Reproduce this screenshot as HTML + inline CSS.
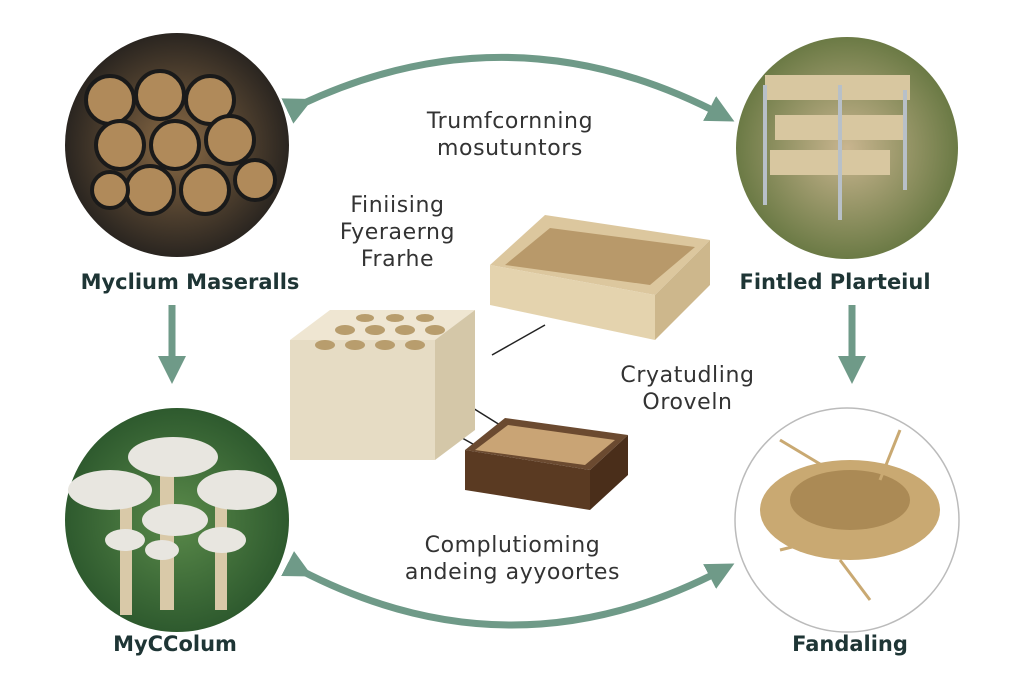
<!DOCTYPE html>
<html><head><meta charset="utf-8"><style>
body{margin:0;width:1024px;height:683px;background:#fff;overflow:hidden;position:relative;font-family:"DejaVu Sans","Liberation Sans",sans-serif}
.t{position:absolute;color:#333;font-size:22px;text-align:center;line-height:27px;letter-spacing:0.6px;white-space:nowrap}
.l{position:absolute;color:#1e3535;font-weight:bold;font-size:21px;text-align:center;white-space:nowrap}
</style></head><body>
<svg width="1024" height="683" style="position:absolute;left:0;top:0">
<defs>
<marker id="a" markerWidth="4" markerHeight="4" refX="2" refY="2" orient="auto" markerUnits="strokeWidth"><path d="M0,0 L4,2 L0,4z" fill="#6f9a88"/></marker>
<radialGradient id="g1"><stop offset="0" stop-color="#8a6a45"/><stop offset="1" stop-color="#2a2520"/></radialGradient>
<radialGradient id="g2"><stop offset="0" stop-color="#c9b58f"/><stop offset="1" stop-color="#6b7a45"/></radialGradient>
<radialGradient id="g3"><stop offset="0" stop-color="#5a8a4a"/><stop offset="1" stop-color="#2e5a2e"/></radialGradient>
</defs>
<path d="M300,105 Q512,5 722,115" stroke="#6f9a88" stroke-width="7" fill="none" marker-end="url(#a)" marker-start="url(#a)"/>
<path d="M300,570 Q512,680 722,570" stroke="#6f9a88" stroke-width="7" fill="none" marker-end="url(#a)" marker-start="url(#a)"/>
<line x1="172" y1="305" x2="172" y2="370" stroke="#6f9a88" stroke-width="7" marker-end="url(#a)"/>
<line x1="852" y1="305" x2="852" y2="370" stroke="#6f9a88" stroke-width="7" marker-end="url(#a)"/>
<circle cx="177" cy="145" r="112" fill="url(#g1)"/>
<g fill="#b08a5a" stroke="#1a1a1a" stroke-width="4">
<circle cx="110" cy="100" r="24"/><circle cx="160" cy="95" r="24"/><circle cx="210" cy="100" r="24"/><circle cx="120" cy="145" r="24"/><circle cx="175" cy="145" r="24"/><circle cx="230" cy="140" r="24"/><circle cx="150" cy="190" r="24"/><circle cx="205" cy="190" r="24"/><circle cx="255" cy="180" r="20"/><circle cx="110" cy="190" r="18"/>
</g>
<circle cx="847" cy="148" r="111" fill="url(#g2)"/>
<rect x="765" y="75" width="145" height="25" fill="#d8c7a0"/><rect x="775" y="115" width="130" height="25" fill="#d8c7a0"/><rect x="770" y="150" width="120" height="25" fill="#d8c7a0"/>
<line x1="765" y1="85" x2="765" y2="205" stroke="#b8c0c8" stroke-width="4"/><line x1="840" y1="85" x2="840" y2="220" stroke="#b8c0c8" stroke-width="4"/><line x1="905" y1="90" x2="905" y2="190" stroke="#b8c0c8" stroke-width="4"/>
<circle cx="177" cy="520" r="112" fill="url(#g3)"/>
<g fill="#d9c9a8"><rect x="120" y="505" width="12" height="110"/><rect x="160" y="470" width="14" height="140"/><rect x="215" y="500" width="12" height="110"/></g>
<g fill="#e8e6e0"><ellipse cx="173" cy="457" rx="45" ry="20"/><ellipse cx="110" cy="490" rx="42" ry="20"/><ellipse cx="237" cy="490" rx="40" ry="20"/><ellipse cx="175" cy="520" rx="33" ry="16"/><ellipse cx="125" cy="540" rx="20" ry="11"/><ellipse cx="222" cy="540" rx="24" ry="13"/><ellipse cx="162" cy="550" rx="17" ry="10"/></g>
<circle cx="847" cy="520" r="112" fill="#fff" stroke="#bbb" stroke-width="1.5"/>
<ellipse cx="850" cy="510" rx="90" ry="50" fill="#c9a972"/><ellipse cx="850" cy="500" rx="60" ry="30" fill="#ab8a55"/>
<g stroke="#c9a972" stroke-width="3"><line x1="780" y1="440" x2="830" y2="470"/><line x1="900" y1="430" x2="880" y2="480"/><line x1="840" y1="560" x2="870" y2="600"/><line x1="780" y1="550" x2="820" y2="540"/></g>
<line x1="492" y1="355" x2="545" y2="325" stroke="#222" stroke-width="1.5"/>
<line x1="430" y1="420" x2="480" y2="448" stroke="#222" stroke-width="1.5"/>
<line x1="460" y1="400" x2="500" y2="425" stroke="#222" stroke-width="1.5"/>
<polygon points="290,340 330,310 475,310 435,340" fill="#efe6d2"/>
<rect x="290" y="340" width="145" height="120" fill="#e6dcc4"/>
<polygon points="435,340 475,310 475,430 435,460" fill="#d4c7a8"/>
<g fill="#b89d6d"><ellipse cx="325" cy="345" rx="10" ry="5"/><ellipse cx="355" cy="345" rx="10" ry="5"/><ellipse cx="385" cy="345" rx="10" ry="5"/><ellipse cx="415" cy="345" rx="10" ry="5"/><ellipse cx="345" cy="330" rx="10" ry="5"/><ellipse cx="375" cy="330" rx="10" ry="5"/><ellipse cx="405" cy="330" rx="10" ry="5"/><ellipse cx="435" cy="330" rx="10" ry="5"/><ellipse cx="365" cy="318" rx="9" ry="4"/><ellipse cx="395" cy="318" rx="9" ry="4"/><ellipse cx="425" cy="318" rx="9" ry="4"/></g>
<polygon points="490,265 545,215 710,240 655,295" fill="#dcc79e"/>
<polygon points="505,265 550,228 695,247 650,285" fill="#b8996a"/>
<polygon points="490,265 655,295 655,340 490,305" fill="#e4d3ae"/>
<polygon points="655,295 710,240 710,285 655,340" fill="#cdb78c"/>
<polygon points="465,450 505,418 628,435 590,470" fill="#6b4a30"/>
<polygon points="475,450 508,425 615,440 585,465" fill="#c9a475"/>
<polygon points="465,450 590,470 590,510 465,490" fill="#5a3a22"/>
<polygon points="590,470 628,435 628,475 590,510" fill="#4a2e1a"/>
</svg>
<div class="t" style="left:390px;top:108px;width:240px">Trumfcornning<br>mosutuntors</div>
<div class="t" style="left:300px;top:192px;width:195px">Finiising<br>Fyeraerng<br>Frarhe</div>
<div class="t" style="left:590px;top:362px;width:195px">Cryatudling<br>Oroveln</div>
<div class="t" style="left:370px;top:532px;width:285px">Complutioming<br>andeing ayyoortes</div>
<div class="l" style="left:50px;top:270px;width:280px">Myclium Maseralls</div>
<div class="l" style="left:700px;top:270px;width:270px">Fintled Plarteiul</div>
<div class="l" style="left:60px;top:632px;width:230px">MyCColum</div>
<div class="l" style="left:740px;top:632px;width:220px">Fandaling</div>
</body></html>
